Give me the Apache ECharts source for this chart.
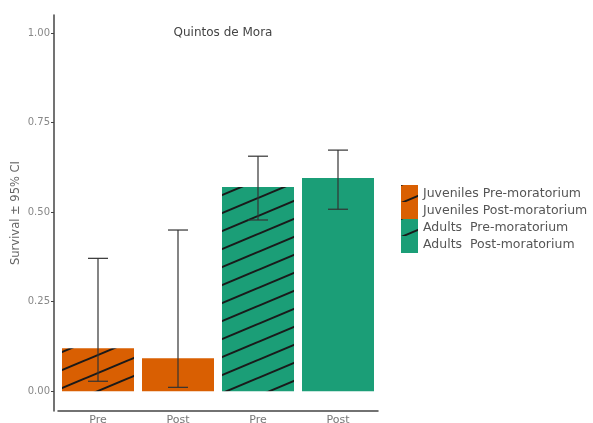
<!DOCTYPE html>
<html>
<head>
<meta charset="utf-8">
<script src="https://cdn.jsdelivr.net/npm/echarts@6/dist/echarts.min.js"></script>
<style>
  html, body { margin: 0; padding: 0; background: #fff; }
  #chart { width: 593px; height: 423px; }
</style>
</head>
<body>
<div id="chart"></div>
<script>
// data
var categories = ['Pre', 'Post', 'Pre', 'Post'];
var groups = ['Juveniles Pre-moratorium', 'Juveniles Post-moratorium', 'Adults  Pre-moratorium', 'Adults  Post-moratorium'];
var survival = [0.12, 0.092, 0.57, 0.595];
var lower = [0.028, 0.011, 0.478, 0.508];
var upper = [0.371, 0.45, 0.656, 0.673];
var yTicks = [0, 0.25, 0.5, 0.75, 1];
var hatched = [true, false, true, false];

var ORANGE = '#D95F02', GREEN = '#1B9E77';
var baseColors = [ORANGE, ORANGE, GREEN, GREEN];

// diagonal hatch tile
function makeHatch(bg) {
  var W = 43, H = 18;
  var c = document.createElement('canvas');
  c.width = W; c.height = H;
  var ctx = c.getContext('2d');
  ctx.fillStyle = bg;
  ctx.fillRect(0, 0, W, H);
  ctx.strokeStyle = '#1a1a1a';
  ctx.lineWidth = 2;
  [-H, 0, H].forEach(function (dy) {
    ctx.beginPath();
    ctx.moveTo(-W, 2 * H + dy);
    ctx.lineTo(2 * W, -H + dy);
    ctx.stroke();
  });
  return { image: c, repeat: 'repeat' };
}

var chart = echarts.init(document.getElementById('chart'));

var series = groups.map(function (name, i) {
  var data = categories.map(function (c, j) { return j === i ? survival[j] : '-'; });
  return {
    name: name,
    type: 'bar',
    stack: 'all',
    barWidth: 72,
    data: data,
    itemStyle: { color: hatched[i] ? makeHatch(baseColors[i]) : baseColors[i] },
    emphasis: { disabled: true }
  };
});

series.push({
  type: 'custom',
  name: 'ci',
  data: categories.map(function (c, i) { return [i, lower[i], upper[i]]; }),
  renderItem: function (params, api) {
    var x = api.value(0);
    var lo = api.coord([x, api.value(1)]);
    var hi = api.coord([x, api.value(2)]);
    var half = 10;
    var style = { stroke: '#333', lineWidth: 1.2 };
    return {
      type: 'group',
      children: [
        { type: 'line', shape: { x1: lo[0], y1: lo[1], x2: hi[0], y2: hi[1] }, style: style },
        { type: 'line', shape: { x1: lo[0] - half, y1: lo[1], x2: lo[0] + half, y2: lo[1] }, style: style },
        { type: 'line', shape: { x1: hi[0] - half, y1: hi[1], x2: hi[0] + half, y2: hi[1] }, style: style }
      ]
    };
  },
  z: 10
});

chart.setOption({
  animation: false,
  backgroundColor: '#fff',
  textStyle: { fontFamily: 'DejaVu Sans, sans-serif' },
  title: {
    text: 'Quintos de Mora',
    left: 218,
    top: 22,
    textAlign: 'center',
    textStyle: { fontSize: 12, fontWeight: 'normal', color: '#444' }
  },
  legend: {
    data: groups,
    orient: 'vertical',
    left: 401,
    top: 185,
    itemWidth: 17,
    itemHeight: 17,
    itemGap: 0,
    padding: 0,
    icon: 'rect',
    selectedMode: false,
    textStyle: { fontSize: 12.5, color: '#555' }
  },
  grid: { left: 58, right: 215, top: 15, bottom: 12, outerBoundsMode: 'none', containLabel: false },
  xAxis: {
    type: 'category',
    data: categories,
    axisLine: { onZero: false, lineStyle: { color: '#444', width: 1.5 } },
    axisTick: { alignWithLabel: true, length: 3, lineStyle: { color: '#444' } },
    axisLabel: { fontSize: 11, color: '#777', margin: 4 }
  },
  yAxis: {
    type: 'value',
    min: -0.055,
    max: 1.05,
    offset: 4,
    name: 'Survival ± 95% CI',
    nameLocation: 'middle',
    nameGap: 32,
    nameMoveOverlap: false,
    nameTextStyle: { fontSize: 11.5, color: '#666' },
    axisLine: { show: true, lineStyle: { color: '#444', width: 1.5 } },
    axisTick: { show: true, length: 3, customValues: yTicks, lineStyle: { color: '#444' } },
    axisLabel: {
      customValues: yTicks,
      fontSize: 10,
      color: '#888',
      margin: 4,
      formatter: function (v) { return v.toFixed(2); }
    },
    splitLine: { show: false }
  },
  series: series
});
</script>
</body>
</html>
